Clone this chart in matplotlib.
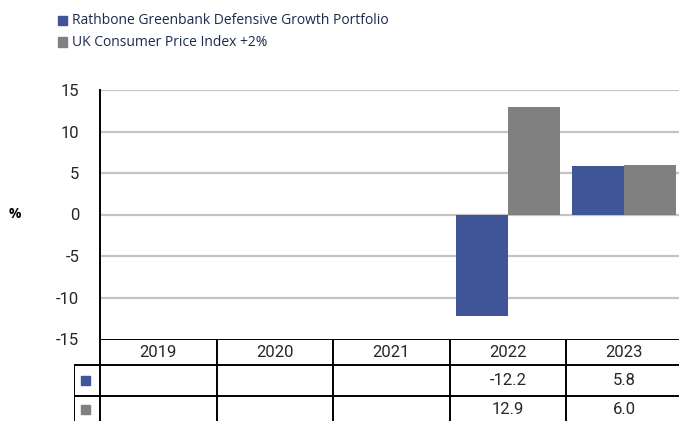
import matplotlib.pyplot as plt
import matplotlib.patches as mpatches
import numpy as np

years = ["2019", "2020", "2021", "2022", "2023"]
portfolio = [np.nan, np.nan, np.nan, -12.2, 5.8]
cpi = [np.nan, np.nan, np.nan, 12.9, 6.0]
series_names = ["Rathbone Greenbank Defensive Growth Portfolio", "UK Consumer Price Index +2%"]
yticks = [-15, -10, -5, 0, 5, 10, 15]

blue = "#3f5597"
grey = "#808080"
W, H = 679, 421
num_font = ["Roboto", "DejaVu Sans"]

plt.rcParams['font.family'] = ['Open Sans', 'DejaVu Sans']

fig = plt.figure(figsize=(W / 100, H / 100), dpi=100)

def fx(px):
    return px / W

def fy(py):
    return 1 - py / H

# main plot area
left, right, top, bottom = 100, 682.5, 90, 339
ax = fig.add_axes([fx(left), fy(bottom), fx(right - left), fy(top) - fy(bottom)])
x = np.arange(len(years))
bw = 0.445
ax.bar(x - bw / 2, portfolio, bw, color=blue, zorder=3)
ax.bar(x + bw / 2, cpi, bw, color=grey, zorder=3)
ax.set_xlim(-0.5, len(years) - 0.5)
ax.set_ylim(-15, 15)
ax.set_yticks(yticks)
ax.set_yticklabels([str(t) for t in yticks], fontsize=12, color="#262626", family=num_font)
ax.tick_params(axis="y", length=0, pad=15)
ax.set_xticks([])
for t in yticks[1:]:
    ax.axhline(t, color="#c4c4c4", lw=1.6, zorder=1)
for s in ["top", "right", "bottom"]:
    ax.spines[s].set_visible(False)
ax.spines["left"].set_color("black")
ax.spines["left"].set_linewidth(1.4)
fig.text(fx(15), fy(214), "%", fontsize=10, fontweight="bold", ha="center", va="center")

# data table below the plot
tab = fig.add_axes([fx(left - 26), 0, fx(right - left + 26), fy(bottom)])
tab.set_xlim(-0.5 - 26 / 116.5, len(years) - 0.5)
tab.set_ylim(H, bottom)
tab.axis("off")
lc = dict(color="black", lw=1.4, solid_capstyle="projecting")
row_y = [339, 365, 396]
x0 = -0.5 - 26 / 116.5
xe = len(years) - 0.5
tab.plot([-0.5, xe], [row_y[0], row_y[0]], **lc)
tab.plot([x0, xe], [row_y[1], row_y[1]], **lc)
tab.plot([x0, xe], [row_y[2], row_y[2]], **lc)
tab.plot([x0, x0], [row_y[1], H], **lc)
for i in range(len(years)):
    tab.plot([i - 0.5, i - 0.5], [row_y[0], H], **lc)

for i, yr in enumerate(years):
    tab.text(i, (row_y[0] + row_y[1]) / 2 + 1, yr, ha="center", va="center", fontsize=12,
             color="#262626", family=num_font)
for vals, yc, col in [(portfolio, (row_y[1] + row_y[2]) / 2, blue), (cpi, (row_y[2] + H) / 2 + 1, grey)]:
    for i, v in enumerate(vals):
        if not np.isnan(v):
            tab.text(i, yc, f"{v:.1f}", ha="center", va="center", fontsize=12,
                     color="#262626", family=num_font)
    fig.patches.append(mpatches.Rectangle((fx(81), fy(yc + 4.5)), fx(9), fy(yc - 4.5) - fy(yc + 4.5),
                                          color=col, transform=fig.transFigure, figure=fig))

# legend at the top
for name, col, yc in [(series_names[0], blue, 20), (series_names[1], grey, 42)]:
    fig.patches.append(mpatches.Rectangle((fx(58), fy(yc + 4.5)), fx(9), fy(yc - 4.5) - fy(yc + 4.5),
                                          color=col, transform=fig.transFigure, figure=fig))
    fig.text(fx(72), fy(yc), name, fontsize=10, color="#1c2a4e", va="center", ha="left")

fig.savefig("out.png", dpi=100)
